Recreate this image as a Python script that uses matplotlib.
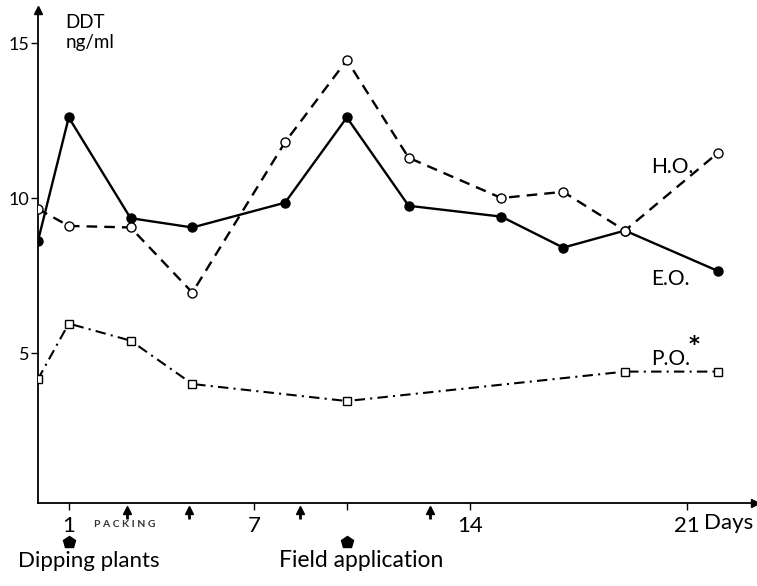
import matplotlib
matplotlib.use("Agg")
import matplotlib.pyplot as plt
import matplotlib.transforms as mtrans

plt.rcParams['font.family'] = ['Lato', 'DejaVu Sans']

# DDT in ng/ml against days
days = [0, 1, 3, 5, 8, 10, 12, 15, 17, 19, 22]
eo = [8.6, 12.6, 9.35, 9.05, 9.85, 12.6, 9.75, 9.4, 8.4, 8.95, 7.65]
ho = [9.65, 9.1, 9.05, 6.95, 11.8, 14.45, 11.3, 10.0, 10.2, 8.95, 11.45]
days_po = [0, 1, 3, 5, 10, 19, 22]
po = [4.15, 5.95, 5.4, 4.0, 3.45, 4.4, 4.4]

xticks = [1, 7, 14, 21]
yticks = [5, 10, 15]
packing_days = [2.9, 4.9, 8.5, 12.7]
event_days = [1, 10]

fig = plt.figure(figsize=(7.57, 5.86), dpi=100)
ax = fig.add_axes([0.050, 0.1416, 0.947, 0.841])

ax.plot(days, eo, '-', color='k', lw=1.7, marker='o', ms=6.5,
        mfc='k', mec='k', zorder=3)
ax.plot(days, ho, color='k', lw=1.7, ls=(0, (4.5, 3)), marker='o', ms=6.5,
        mfc='white', mec='k', mew=1.0, zorder=4)
ax.plot(days_po, po, color='k', lw=1.5, ls=(0, (5, 2.5, 1, 2.5)), marker='s',
        ms=6, mfc='white', mec='k', mew=1.0, zorder=4)

ax.set_xlim(0, 23.2)
ax.set_ylim(0.16, 16.06)
for s in ['top', 'right']:
    ax.spines[s].set_visible(False)
for s in ['left', 'bottom']:
    ax.spines[s].set_linewidth(1.3)

# arrow heads on the axes
ax.plot([1], [0], marker='>', color='k', ms=6, transform=ax.transAxes,
        clip_on=False)
ax.plot([0], [1], marker='^', color='k', ms=6, transform=ax.transAxes,
        clip_on=False)

ax.set_xticks(xticks)
ax.set_xticklabels([str(t) for t in xticks], fontsize=16)
ax.set_xticks([10], minor=True)
ax.tick_params(axis='x', which='both', direction='out', length=5, width=1,
               pad=4)
ax.set_yticks(yticks)
ax.set_yticklabels([str(t) for t in yticks], fontsize=13)
ax.tick_params(axis='y', direction='out', length=5, width=1, pad=1)

bt = mtrans.blended_transform_factory(ax.transData, ax.transAxes)

ax.text(23.15, -0.02, 'Days', transform=bt, fontsize=16, ha='right',
        va='top')

ax.text(0.9, 15.95, 'DDT\nng/ml', fontsize=13.5, ha='left', va='top',
        linespacing=1.25)

ax.text(19.85, 11.0, 'H.O.', fontsize=15, ha='left', va='center')
ax.text(19.85, 7.4, 'E.O.', fontsize=15, ha='left', va='center')
ax.text(19.85, 4.8, 'P.O.', fontsize=15, ha='left', va='center')
ax.text(21.25, 5.25, '*', fontsize=15, fontweight='bold', ha='center',
        va='center', family='DejaVu Sans')

# packing arrows and event markers below the axis
ax.plot(packing_days, [-0.015] * len(packing_days), ls='none', marker='^',
        ms=6, color='k', transform=bt, clip_on=False)
ax.plot(packing_days, [-0.026] * len(packing_days), ls='none', marker='|',
        ms=5, mew=2, color='k', transform=bt, clip_on=False)
ax.text(2.8, -0.043, 'P A C K I N G', fontsize=7.5, ha='center',
        va='center', transform=bt, fontweight='bold', color='#333333')

ax.plot(event_days, [-0.079] * len(event_days), ls='none', marker='p',
        ms=9, color='k', transform=bt, clip_on=False)
ax.text(-0.65, -0.117, 'Dipping plants', fontsize=16, ha='left',
        va='center', transform=bt)
ax.text(10.47, -0.117, 'Field application', fontsize=16.5, ha='center',
        va='center', transform=bt)

fig.savefig('out.png', dpi=100)
